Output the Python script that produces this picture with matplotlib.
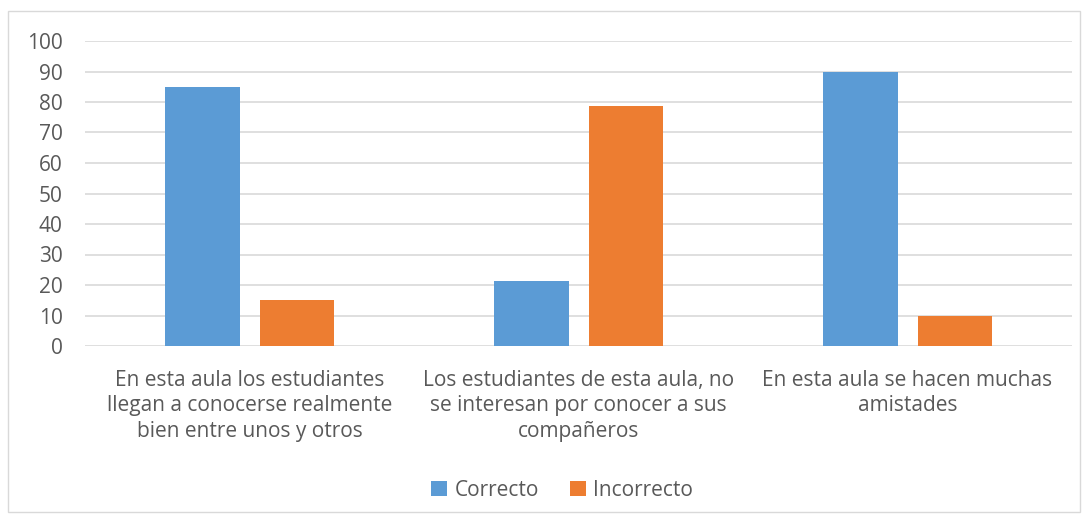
import matplotlib.pyplot as plt
import numpy as np
from matplotlib.patches import Rectangle

categories = ['En esta aula los estudiantes\nllegan a conocerse realmente\nbien entre unos y otros',
              'Los estudiantes de esta aula, no\nse interesan por conocer a sus\ncompañeros',
              'En esta aula se hacen muchas\namistades']
correcto = [85, 21.3, 90]
incorrecto = [15, 78.7, 10]
yticks = [0, 10, 20, 30, 40, 50, 60, 70, 80, 90, 100]

plt.rcParams['font.family'] = ['Open Sans', 'DejaVu Sans']
txt = '#595959'

fig = plt.figure(figsize=(10.89, 5.19), dpi=100)
# outer chart border
fig.patches.append(Rectangle((8 / 1089, 1 - 512 / 519), 1072 / 1089, 501 / 519,
                             transform=fig.transFigure, fill=False,
                             edgecolor='#d9d9d9', linewidth=1))

ax = fig.add_axes([85 / 1089, 1 - 346 / 519, (1072 - 85) / 1089, (346 - 41) / 519])
x = np.arange(len(categories))
w = 0.225
off = (w + 20 / 329) / 2
ax.bar(x - off, correcto, w, color='#5b9bd5', label='Correcto', zorder=3)
ax.bar(x + off, incorrecto, w, color='#ed7d31', label='Incorrecto', zorder=3)

ax.set_xlim(-0.5, 2.5)
ax.set_ylim(0, 100)
ax.set_yticks(yticks)
ax.yaxis.grid(True, color='#d9d9d9', linewidth=1.2, zorder=0)
for s in ax.spines.values():
    s.set_visible(False)
ax.tick_params(axis='both', length=0, colors=txt, labelsize=15)
ax.tick_params(axis='y', pad=16)
ax.set_xticks(x)
ax.set_xticklabels(categories, fontsize=15, color=txt, linespacing=1.3)
ax.tick_params(axis='x', pad=17)

fig.legend(loc='center', bbox_to_anchor=(562 / 1089, 1 - 490 / 519), ncol=2,
           frameon=False, fontsize=15, labelcolor=txt, handlelength=0.75,
           handleheight=0.75, handletextpad=0.35, columnspacing=1.5)

fig.savefig('out.png', dpi=100)
